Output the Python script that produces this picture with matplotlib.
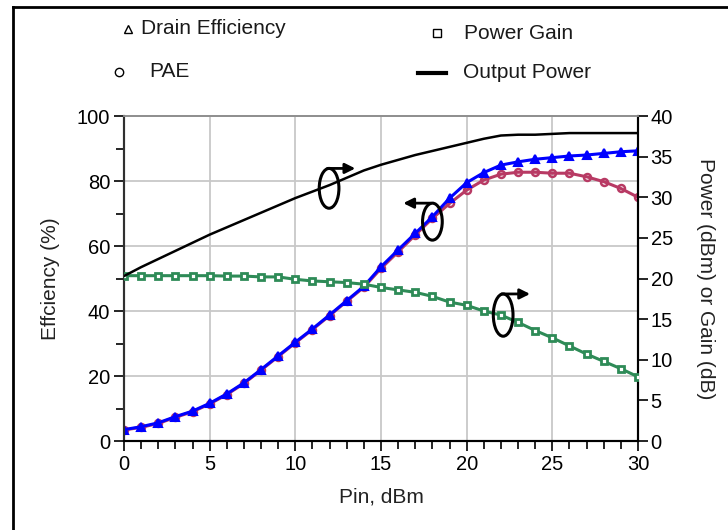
import numpy as np
import matplotlib
matplotlib.use('Agg')
import matplotlib.pyplot as plt
from matplotlib.patches import Ellipse
from matplotlib.lines import Line2D

plt.rcParams['font.family'] = ['Liberation Sans', 'DejaVu Sans']

pin = list(range(0, 31))

drain_eff = [3.5, 4.4, 5.6, 7.5, 9.2, 11.6, 14.5, 17.9, 22.0, 26.2, 30.4,
             34.5, 38.8, 43.2, 47.6, 53.6, 58.8, 63.9, 69.0, 74.7, 79.5,
             82.6, 84.9, 85.9, 86.7, 87.2, 87.7, 88.0, 88.5, 89.0, 89.3]

pae = [3.4, 4.2, 5.4, 7.3, 9.0, 11.4, 14.3, 17.7, 21.8, 26.0, 30.2,
       34.3, 38.6, 43.0, 47.3, 53.1, 58.2, 63.4, 68.5, 73.1, 77.2,
       80.3, 82.1, 82.7, 82.7, 82.4, 82.4, 81.3, 79.8, 77.7, 75.0]

power_gain = [20.35, 20.35, 20.35, 20.35, 20.35, 20.35, 20.3, 20.3, 20.2, 20.2, 19.9,
              19.7, 19.6, 19.5, 19.3, 18.9, 18.6, 18.3, 17.8, 17.1, 16.7,
              16.0, 15.5, 14.6, 13.6, 12.7, 11.7, 10.7, 9.8, 8.9, 7.9]

output_power = [20.3, 21.4, 22.4, 23.4, 24.4, 25.4, 26.3, 27.2, 28.1, 29.0, 29.9,
                30.7, 31.5, 32.4, 33.3, 34.0, 34.6, 35.2, 35.7, 36.2, 36.7,
                37.2, 37.6, 37.7, 37.7, 37.8, 37.9, 37.9, 37.9, 37.9, 37.9]

blue = '#0000ff'
crimson = '#b83a64'
green = '#2e8b57'

fig = plt.figure(figsize=(7.28, 5.30), dpi=100)
ax = fig.add_axes([0.1703, 0.1679, 0.7061, 0.6132])
ax2 = ax.twinx()

ax.plot(pin, pae, color=crimson, lw=2.2, marker='o', ms=5, mfc='none',
        mec=crimson, mew=1.8, zorder=3)
ax.plot(pin, drain_eff, color=blue, lw=2.2, marker='^', ms=5.5, mfc=blue,
        mec=blue, mew=1.5, zorder=4)

ax2.plot(pin, power_gain, color=green, lw=2.2, marker='s', ms=5, mfc='white',
         mec=green, mew=2, zorder=3)
ax2.plot(pin, output_power, color='black', lw=1.8, zorder=3)

ax.set_xlim(0, 30)
ax.set_ylim(0, 100)
ax2.set_ylim(0, 40)
ax.set_xticks(range(0, 31, 5))
ax.set_xticks(range(0, 31), minor=True)
ax.set_yticks(range(0, 101, 20))
ax.set_yticks(range(0, 101, 10), minor=True)
ax2.set_yticks(range(0, 41, 5))

ax.grid(True, which='major', color='#c8c8c8', lw=1.3)
ax.set_axisbelow(True)

ax.tick_params(axis='both', which='major', direction='out', length=7, width=1.2,
               labelsize=14.5, pad=3)
ax.tick_params(axis='both', which='minor', direction='out', length=6, width=1.2)
ax2.tick_params(axis='y', direction='out', length=7, width=1.2, labelsize=14.5, pad=2)

for a in (ax, ax2):
    a.spines['top'].set_color('#909090')
    a.spines['top'].set_linewidth(1.3)
    a.spines['left'].set_color('#303030')
    a.spines['left'].set_linewidth(1.5)
    a.spines['bottom'].set_color('black')
    a.spines['bottom'].set_linewidth(1.5)
    a.spines['right'].set_color('black')
    a.spines['right'].set_linewidth(1.5)

ax.set_xlabel('Pin, dBm', fontsize=15, labelpad=10, color='#222222')
ax.set_ylabel('Effciency (%)', fontsize=15, labelpad=12, color='#222222')
ax2.set_ylabel('Power (dBm) or Gain (dB)', fontsize=15, rotation=-90,
               labelpad=30, color='#222222')

# ellipse markers with arrows pointing to the relevant axis (right-axis units)
notes = [((11.97, 31.1), 4.9, 13.5), ((18.0, 27.0), 4.55, 16.3), ((22.13, 15.5), 5.2, 23.7)]
for (cx, cy), h, tip in notes:
    ax2.add_patch(Ellipse((cx, cy), 1.15, h, fill=False, ec='black', lw=2.2, zorder=6))
    top = cy + h / 2
    ax2.annotate('', xy=(tip, top), xytext=(cx - 0.1, top),
                 arrowprops=dict(arrowstyle='-|>,head_length=0.6,head_width=0.3',
                                 color='black', lw=2, shrinkA=0, shrinkB=0),
                 zorder=6)

# legend drawn by hand above the axes
fs = 15
fig.add_artist(Line2D([0.1758], [0.9453], marker='^', ms=6, mfc='none', mec='black',
                      mew=1, transform=fig.transFigure))
fig.text(0.1937, 0.9453, 'Drain Efficiency', fontsize=fs, va='center', color='#1a1a1a')
fig.add_artist(Line2D([0.6003], [0.9377], marker='s', ms=6, mfc='none', mec='black',
                      mew=1, transform=fig.transFigure))
fig.text(0.6374, 0.9377, 'Power Gain', fontsize=fs, va='center', color='#1a1a1a')
fig.add_artist(Line2D([0.1635], [0.8642], marker='o', ms=6, mfc='none', mec='black',
                      mew=1, transform=fig.transFigure))
fig.text(0.2047, 0.8642, 'PAE', fontsize=fs, va='center', color='#1a1a1a')
fig.add_artist(Line2D([0.5742, 0.6126], [0.8623, 0.8623], color='black', lw=3,
                      transform=fig.transFigure))
fig.text(0.636, 0.8623, 'Output Power', fontsize=fs, va='center', color='#1a1a1a')

# outer frame (left and top edges)
fig.add_artist(Line2D([0.0172, 0.0172], [0.0, 0.9877], color='black', lw=2,
                      transform=fig.transFigure))
fig.add_artist(Line2D([0.0172, 1.0], [0.9877, 0.9877], color='black', lw=2,
                      transform=fig.transFigure))

fig.savefig('out.png', dpi=100)
